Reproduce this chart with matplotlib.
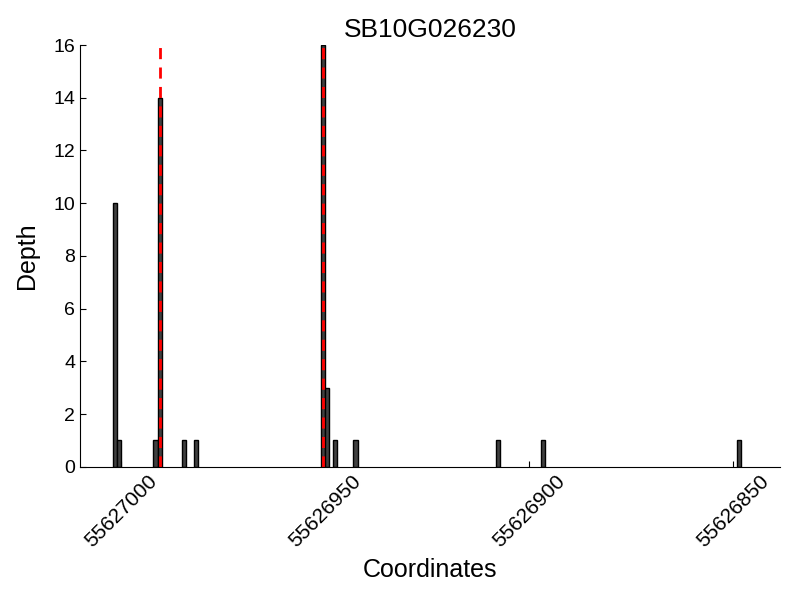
import matplotlib
matplotlib.use("Agg")
import matplotlib.pyplot as plt

plt.rcParams['font.family'] = ['Liberation Sans', 'DejaVu Sans']

# ==========================
# DATA
# ==========================
gene = "SB10G026230"
positions = [55627001, 55627000, 55626991, 55626990, 55626984, 55626981,
             55626950, 55626949, 55626947, 55626942, 55626907, 55626896,
             55626848]
depths = [10, 1, 1, 14, 1, 1, 16, 3, 1, 1, 1, 1, 1]
marked_sites = [55626990, 55626950]
tick_positions = [55627000, 55626950, 55626900, 55626850]

# ==========================
# PLOT
# ==========================
fig = plt.figure(figsize=(8, 6), dpi=100)
ax = fig.add_axes([0.1, 0.222, 0.875, 0.703])

ax.bar(positions, depths, width=1, align='edge', color='#404040',
       edgecolor='black', linewidth=1)

for site in marked_sites:
    ax.axvline(site + 0.5, color='red', linestyle='--', linewidth=2,
               dashes=(4, 3))

ax.set_xlim(55627010, 55626838.5)
ax.set_ylim(0, 16)
ax.set_xticks(tick_positions)
ax.set_xticklabels([str(t) for t in tick_positions], rotation=45,
                   ha='center', fontsize=15)
ax.set_yticks(range(0, 17, 2))
ax.tick_params(axis='y', labelsize=14)
ax.tick_params(direction='in', top=False, right=False, length=4)

ax.spines['top'].set_visible(False)
ax.spines['right'].set_visible(False)

ax.set_xlabel("Coordinates", fontsize=18, labelpad=5)
ax.set_ylabel("Depth", fontsize=18, labelpad=10)
ax.set_title(gene, fontsize=19)

fig.savefig("out.png", dpi=100)
